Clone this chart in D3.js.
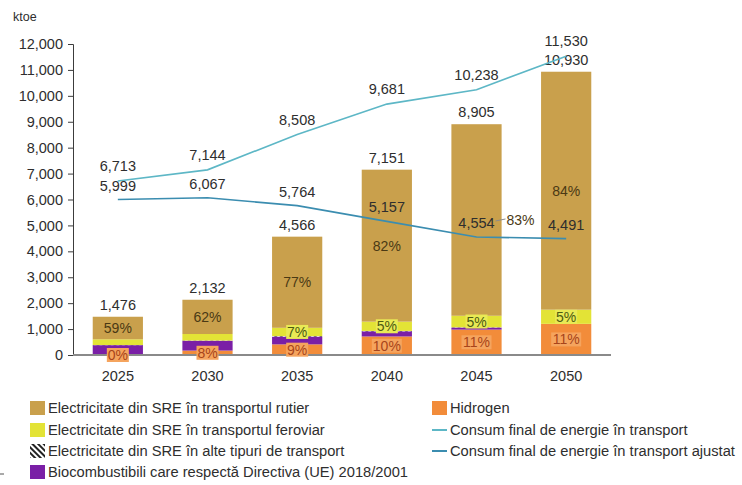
<!DOCTYPE html>
<meta charset="utf-8">
<style>
    body {
        margin: 0;
        background: #fff;
        font-family: "Liberation Sans", Arial, sans-serif;
    }
    text {
        fill: #2e2e2e;
    }
    .axis path, .axis line {
        stroke: #3c3c3c;
    }
</style>
<body>
<script src="https://cdn.jsdelivr.net/npm/d3@7/dist/d3.min.js"></script>
<script>
    // data (ktoe)
    var years = ["2025", "2030", "2035", "2040", "2045", "2050"];
    var hidrogen = [0, 171, 411, 715, 980, 1202];
    var biocombustibili = [380, 380, 300, 200, 80, 0];
    var electricitateAlte = [5, 9, 19, 14, 9, 0];
    var electricitateFeroviar = [220, 250, 320, 358, 445, 547];
    var electricitateRutier = [871, 1322, 3516, 5864, 7391, 9181];
    var consumFinal = [6713, 7144, 8508, 9681, 10238, 11530];
    var consumAjustat = [5999, 6067, 5764, 5157, 4554, 4491];
    var yTicks = [0, 1000, 2000, 3000, 4000, 5000, 6000, 7000, 8000, 9000, 10000, 11000, 12000];
    var feroviarPctShown = [false, false, true, true, true, true];

    var width = 742, height = 485;
    var plotLeft = 73, plotRight = 611, plotTop = 44, plotBottom = 355;

    var series = [
        { key: "hidrogen", name: "Hidrogen", color: "#f28c3a", box: "#f5a45e", labelColor: "#a8441a" },
        { key: "bio", name: "Biocombustibili care respectă Directiva (UE) 2018/2001", color: "#7a1fa6" },
        { key: "alte", name: "Electricitate din SRE în alte tipuri de transport", color: "url(#hatch)" },
        { key: "feroviar", name: "Electricitate din SRE în transportul feroviar", color: "#e3e336", box: "#e9ea55", labelColor: "#4d5a12" },
        { key: "rutier", name: "Electricitate din SRE în transportul rutier", color: "#c9a04c", labelColor: "#4a3914" }
    ];

    var table = years.map(function (y, i) {
        return {
            year: y,
            hidrogen: hidrogen[i],
            bio: biocombustibili[i],
            alte: electricitateAlte[i],
            feroviar: electricitateFeroviar[i],
            rutier: electricitateRutier[i],
            total: hidrogen[i] + biocombustibili[i] + electricitateAlte[i] + electricitateFeroviar[i] + electricitateRutier[i]
        };
    });

    var x = d3.scaleBand().domain(years).range([plotLeft, plotRight]).paddingInner(0.44).paddingOuter(0.22);
    var y = d3.scaleLinear().domain([0, 12000]).range([plotBottom, plotTop]);

    var svg = d3.select("body").append("svg")
        .attr("width", width)
        .attr("height", height);

    var defs = svg.append("defs");
    var hatch = defs.append("pattern")
        .attr("id", "hatch")
        .attr("patternUnits", "userSpaceOnUse")
        .attr("width", 4).attr("height", 4)
        .attr("patternTransform", "rotate(-45)");
    hatch.append("rect").attr("width", 4).attr("height", 4).attr("fill", "#fff");
    hatch.append("rect").attr("width", 2).attr("height", 4).attr("fill", "#222");

    // y axis
    var yAxis = svg.append("g")
        .attr("class", "axis")
        .attr("transform", "translate(" + plotLeft + ",0)")
        .call(d3.axisLeft(y).tickValues(yTicks).tickFormat(d3.format(",d")).tickSize(5).tickSizeOuter(5).tickPadding(5));
    yAxis.selectAll("text").style("font-size", "14.5px").style("font-family", "inherit").attr("fill", "#2e2e2e");

    svg.append("text")
        .attr("x", 13).attr("y", 21)
        .style("font-size", "12.5px")
        .text("ktoe");

    // stacked bars
    var stack = d3.stack().keys(series.map(function (s) { return s.key; }));
    var layers = stack(table);

    svg.selectAll("g.layer")
        .data(layers)
        .enter().append("g")
        .attr("class", "layer")
        .attr("fill", function (d, i) { return series[i].color; })
        .selectAll("rect")
        .data(function (d) { return d; })
        .enter().append("rect")
        .attr("x", function (d) { return x(d.data.year); })
        .attr("width", x.bandwidth())
        .attr("y", function (d) { return y(d[1]); })
        .attr("height", function (d) { return y(d[0]) - y(d[1]); });

    // x axis line
    svg.append("line")
        .attr("x1", plotLeft).attr("x2", plotRight)
        .attr("y1", y(0)).attr("y2", y(0))
        .attr("stroke", "#8a8a8a")
        .attr("stroke-width", 2);

    svg.selectAll("text.year")
        .data(years)
        .enter().append("text")
        .attr("class", "year")
        .attr("x", function (d) { return x(d) + x.bandwidth() / 2; })
        .attr("y", 381)
        .attr("text-anchor", "middle")
        .style("font-size", "14.5px")
        .text(function (d) { return d; });

    // totals above bars
    svg.selectAll("text.total")
        .data(table)
        .enter().append("text")
        .attr("class", "total")
        .attr("x", function (d) { return x(d.year) + x.bandwidth() / 2; })
        .attr("y", function (d) { return y(d.total) - 7; })
        .attr("text-anchor", "middle")
        .style("font-size", "14.5px")
        .text(function (d) { return d3.format(",d")(d.total); });

    // lines
    var line = d3.line()
        .x(function (d, i) { return x(years[i]) + x.bandwidth() / 2; })
        .y(function (d) { return y(d); });

    svg.append("path")
        .datum(consumFinal)
        .attr("fill", "none")
        .attr("stroke", "#5db7c6")
        .attr("stroke-width", 1.6)
        .attr("d", line);

    svg.append("path")
        .datum(consumAjustat)
        .attr("fill", "none")
        .attr("stroke", "#3b8db0")
        .attr("stroke-width", 1.6)
        .attr("d", line);

    function lineLabels(values, dy) {
        svg.append("g").selectAll("text")
            .data(values)
            .enter().append("text")
            .attr("x", function (d, i) { return x(years[i]) + x.bandwidth() / 2; })
            .attr("y", function (d) { return y(d) - dy; })
            .attr("text-anchor", "middle")
            .style("font-size", "14.5px")
            .text(function (d) { return d3.format(",d")(d); });
    }
    lineLabels(consumFinal, 10);
    lineLabels(consumAjustat, 9);

    // percentage labels inside the segments
    var movedLabel = { year: "2045", dx: 44 };
    layers.forEach(function (layer, li) {
        var s = series[li];
        if (!s.labelColor) return;
        layer.forEach(function (d, i) {
            if (s.key === "feroviar" && !feroviarPctShown[i]) return;
            var pct = Math.round(d.data[s.key] / d.data.total * 100) + "%";
            var cx = x(d.data.year) + x.bandwidth() / 2;
            var cy = y((d[0] + d[1]) / 2);
            if (s.key === "rutier" && d.data.year === movedLabel.year) {
                svg.append("line")
                    .attr("x1", cx + 19).attr("x2", cx + 29)
                    .attr("y1", cy + 1).attr("y2", cy - 1)
                    .attr("stroke", "#8a8a8a").attr("stroke-width", 1);
                cx += movedLabel.dx;
            }
            if (s.box) {
                svg.append("rect")
                    .attr("x", cx - (pct.length * 4 + 3))
                    .attr("y", cy - 7)
                    .attr("width", pct.length * 8 + 6)
                    .attr("height", 14)
                    .attr("fill", s.box);
            }
            svg.append("text")
                .attr("x", cx)
                .attr("y", cy + 5)
                .attr("text-anchor", "middle")
                .style("font-size", "14px")
                .style("fill", s.labelColor)
                .text(pct);
        });
    });

    // legend
    var legendLeft = [series[4], series[3], series[2], series[1]];
    var rowsY = [408, 430, 451, 472];

    legendLeft.forEach(function (s, i) {
        svg.append("rect")
            .attr("x", 30).attr("y", rowsY[i] - 7)
            .attr("width", 15).attr("height", 14)
            .attr("fill", s.color);
        svg.append("text")
            .attr("x", 48).attr("y", rowsY[i] + 5)
            .style("font-size", "14.7px")
            .text(s.name);
    });

    svg.append("rect")
        .attr("x", 432).attr("y", rowsY[0] - 7)
        .attr("width", 15).attr("height", 14)
        .attr("fill", series[0].color);
    svg.append("text")
        .attr("x", 450).attr("y", rowsY[0] + 5)
        .style("font-size", "14.7px")
        .text(series[0].name);

    [["Consum final de energie în transport", "#5db7c6"],
     ["Consum final de energie în transport ajustat", "#3b8db0"]].forEach(function (l, i) {
        svg.append("line")
            .attr("x1", 432).attr("x2", 447)
            .attr("y1", rowsY[i + 1]).attr("y2", rowsY[i + 1])
            .attr("stroke", l[1]).attr("stroke-width", 2);
        svg.append("text")
            .attr("x", 450).attr("y", rowsY[i + 1] + 5)
            .style("font-size", "14.7px")
            .text(l[0]);
    });

    svg.append("line")
        .attr("x1", 0).attr("x2", 4)
        .attr("y1", 474).attr("y2", 474)
        .attr("stroke", "#555");
</script>
</body>
